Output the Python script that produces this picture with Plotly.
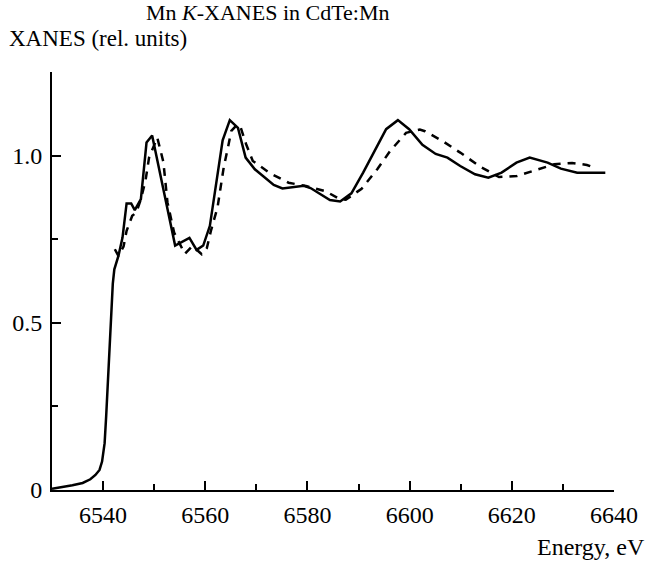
import plotly.graph_objects as go

# Solid curve (experiment)
solid_e = [6530.0, 6532.0, 6534.0, 6536.0, 6537.5, 6538.5, 6539.3, 6539.8, 6540.3, 6540.6,
           6541.2, 6541.9, 6542.2, 6543.0, 6543.8, 6544.6, 6545.5, 6546.2, 6547.4, 6548.5,
           6549.6, 6554.1, 6556.9, 6558.3, 6559.6, 6560.9, 6563.4, 6564.8, 6566.4, 6567.9,
           6569.7, 6573.4, 6575.1, 6579.3, 6580.6, 6584.4, 6586.4, 6588.6, 6590.9, 6595.4,
           6597.7, 6599.9, 6602.5, 6605.1, 6607.4, 6609.9, 6612.8, 6615.4, 6618.0, 6620.9,
           6623.5, 6627.0, 6629.6, 6632.8, 6638.3]
solid_v = [0.004, 0.008, 0.014, 0.021, 0.032, 0.045, 0.060, 0.085, 0.140, 0.220,
           0.418, 0.617, 0.660, 0.700, 0.755, 0.857, 0.857, 0.837, 0.870, 1.039,
           1.060, 0.731, 0.754, 0.718, 0.731, 0.790, 1.046, 1.106, 1.083, 0.994,
           0.959, 0.912, 0.902, 0.910, 0.903, 0.867, 0.863, 0.887, 0.949, 1.079,
           1.106, 1.079, 1.032, 1.005, 0.994, 0.969, 0.944, 0.934, 0.949, 0.979,
           0.994, 0.979, 0.961, 0.949, 0.949]

# Dashed curve
dash_e = [6542.3, 6543.0, 6544.0, 6544.6, 6545.7, 6546.5, 6547.4, 6548.3, 6549.0, 6550.6,
          6551.8, 6552.6, 6553.9, 6556.0, 6557.5, 6559.3, 6560.3, 6561.1, 6562.4, 6563.6,
          6564.5, 6565.1, 6566.2, 6566.8, 6568.0, 6569.3, 6572.6, 6576.3, 6579.7, 6583.6,
          6586.3, 6587.5, 6590.6, 6593.7, 6596.2, 6599.3, 6602.0, 6603.0, 6606.5, 6609.9,
          6613.8, 6617.5, 6621.0, 6624.6, 6628.3, 6631.8, 6634.7, 6636.5]
dash_v = [0.720, 0.700, 0.728, 0.775, 0.820, 0.830, 0.870, 0.925, 0.994, 1.054,
          0.981, 0.860, 0.770, 0.706, 0.730, 0.705, 0.723, 0.775, 0.845, 0.964,
          1.029, 1.074, 1.092, 1.090, 1.034, 0.984, 0.948, 0.919, 0.909, 0.893,
          0.870, 0.868, 0.901, 0.960, 1.014, 1.068, 1.078, 1.073, 1.043, 1.009,
          0.967, 0.936, 0.939, 0.957, 0.974, 0.978, 0.972, 0.962]

x_ticks = [6540, 6560, 6580, 6600, 6620, 6640]
y_ticks = [0, 0.5, 1.0]
y_ticktext = ["0", "0.5", "1.0"]

FONT = "Liberation Serif"
FS = 24

fig = go.Figure()
fig.add_trace(go.Scatter(x=solid_e, y=solid_v, mode="lines",
                         line=dict(color="black", width=2.5), showlegend=False))
fig.add_trace(go.Scatter(x=dash_e, y=dash_v, mode="lines",
                         line=dict(color="black", width=2.5, dash="8px,7px"), showlegend=False))

fig.update_layout(
    width=650, height=561,
    margin=dict(l=52, r=31, t=72, b=71),
    paper_bgcolor="white", plot_bgcolor="white",
    font=dict(family=FONT, size=FS, color="black"),
    showlegend=False,
)
fig.update_xaxes(
    range=[6530, 6640], showgrid=False, zeroline=False,
    showline=True, linecolor="black", linewidth=2,
    ticks="inside", ticklen=9, tickwidth=2, tickcolor="black",
    tickvals=x_ticks, ticklabelstandoff=2,
    minor=dict(dtick=10, tick0=6530, ticks="inside", ticklen=6, tickwidth=2, tickcolor="black"),
)
fig.update_yaxes(
    range=[0, 1.25], showgrid=False, zeroline=False,
    showline=True, linecolor="black", linewidth=2,
    ticks="inside", ticklen=9, tickwidth=2, tickcolor="black",
    tickvals=y_ticks, ticktext=y_ticktext, ticklabelstandoff=3,
    minor=dict(tickvals=[0.25, 0.75, 1.25], ticks="inside", ticklen=6, tickwidth=2, tickcolor="black"),
)

fig.add_annotation(text="Mn <i>K</i>-XANES in CdTe:Mn", xref="paper", yref="paper",
                   x=0.385, y=1.0, yshift=60, xanchor="center", yanchor="middle",
                   showarrow=False, font=dict(family=FONT, size=22))
fig.add_annotation(text="XANES (rel. units)", xref="paper", yref="paper",
                   x=0, xshift=-45, y=1.0, yshift=34, xanchor="left", yanchor="middle",
                   showarrow=False, font=dict(family=FONT, size=23))
fig.add_annotation(text="Energy, eV", xref="paper", yref="paper",
                   x=1.0, xshift=33, y=0, yshift=-57, xanchor="right", yanchor="middle",
                   showarrow=False, font=dict(family=FONT, size=FS))

fig.write_html("out.html", config={"displayModeBar": False},
               post_script="document.body.style.margin='0';document.body.style.overflow='hidden';")
